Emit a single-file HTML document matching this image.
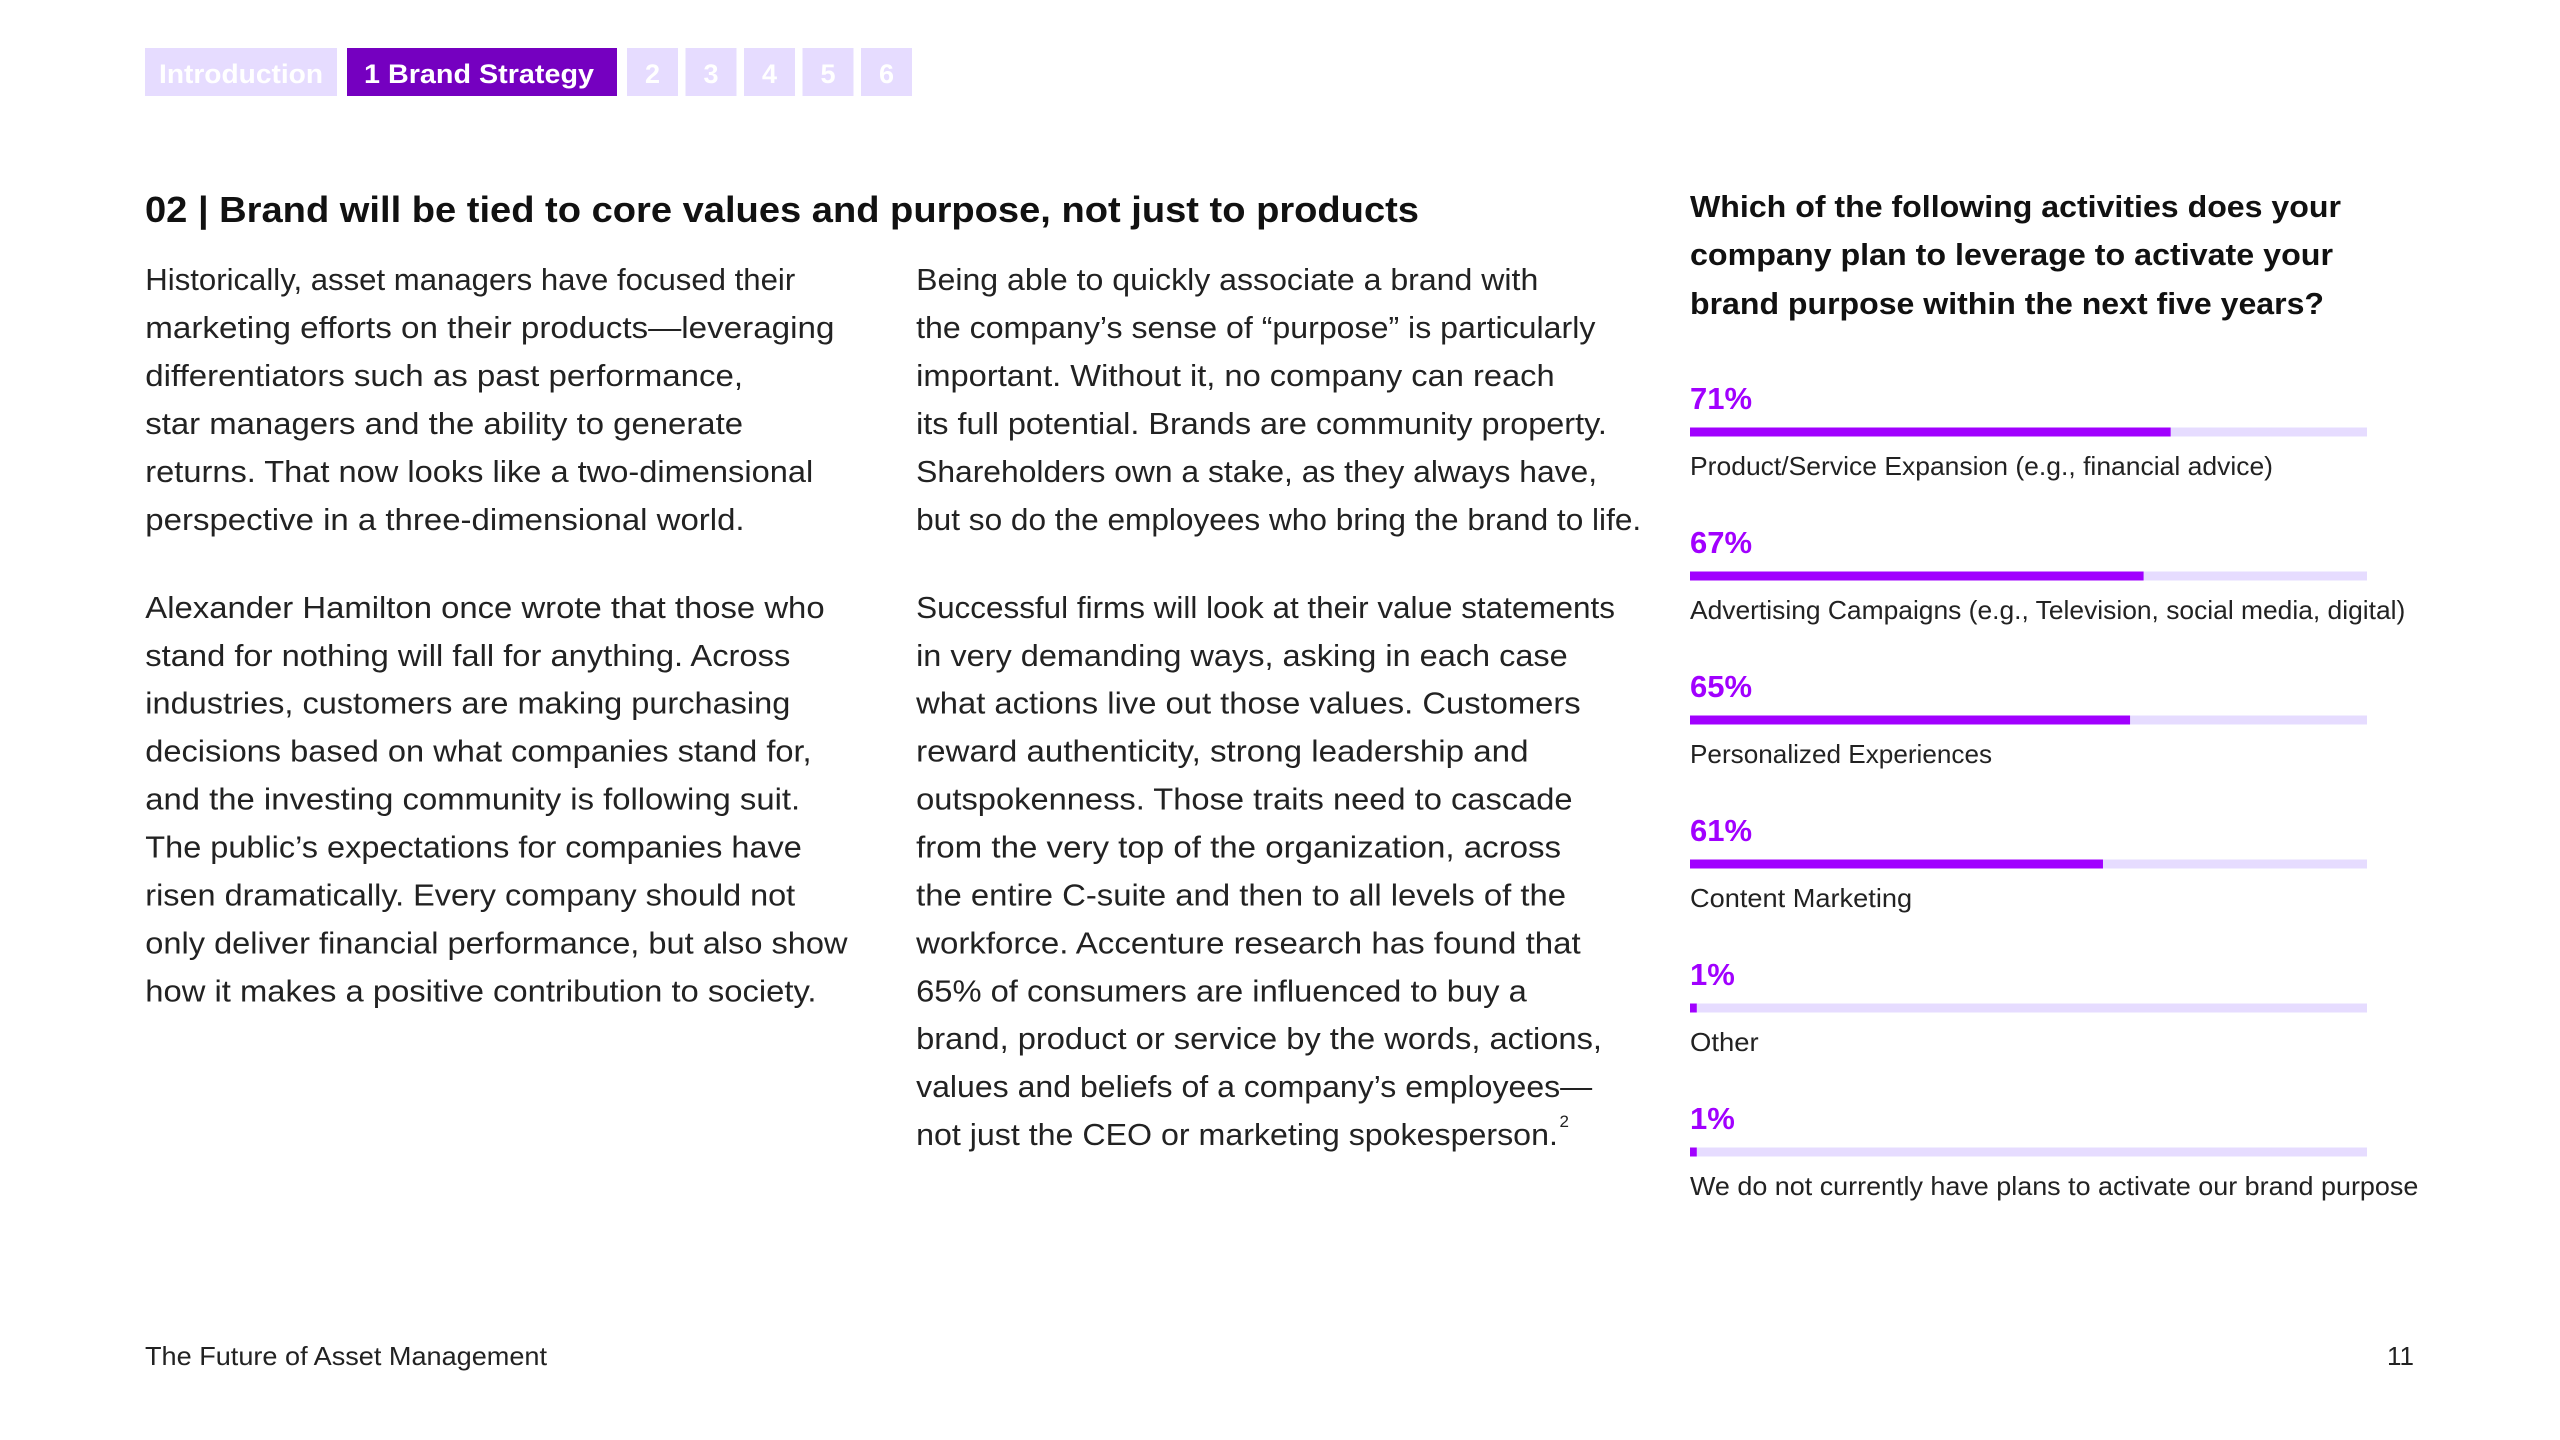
<!DOCTYPE html>
<html><head><meta charset="utf-8">
<style>
html,body{margin:0;padding:0;background:#fff;}
svg{display:block;}
text{font-family:"Liberation Sans",sans-serif;}
</style></head>
<body>
<svg id="page" width="2560" height="1440" viewBox="0 0 2560 1440" xmlns="http://www.w3.org/2000/svg">
  <g>
    <rect x="145" y="48" width="192" height="48" fill="#e6dcff"/>
    <text x="159" y="83" font-size="27" font-weight="bold" fill="#fff" textLength="164" lengthAdjust="spacingAndGlyphs">Introduction</text>
    <rect x="347" y="48" width="270" height="48" fill="#7500c0"/>
    <text x="364" y="83" font-size="27" font-weight="bold" fill="#fff" textLength="230" lengthAdjust="spacingAndGlyphs">1  Brand Strategy</text>
    <g id="navnums"></g>
  </g>
  <text x="145" y="222" font-size="36" font-weight="bold" fill="#111" textLength="1274" lengthAdjust="spacingAndGlyphs">02 | Brand will be tied to core values and purpose, not just to products</text>
  <g id="body"></g>
  <g>
    <text x="1690" y="217" font-size="31" font-weight="bold" fill="#111" textLength="651" lengthAdjust="spacingAndGlyphs">Which of the following activities does your</text>
    <text x="1690" y="265" font-size="31" font-weight="bold" fill="#111" textLength="643" lengthAdjust="spacingAndGlyphs">company plan to leverage to activate your</text>
    <text x="1690" y="314" font-size="31" font-weight="bold" fill="#111" textLength="634" lengthAdjust="spacingAndGlyphs">brand purpose within the next five years?</text>
  </g>
  <g id="chart"></g>
  <text x="145" y="1365" font-size="26" fill="#222" textLength="402" lengthAdjust="spacingAndGlyphs">The Future of Asset Management</text>
  <text x="2414" y="1365" font-size="26" fill="#222" text-anchor="end">11</text>
</svg>
<script>
const categories = ["Product/Service Expansion (e.g., financial advice)","Advertising Campaigns (e.g., Television, social media, digital)","Personalized Experiences","Content Marketing","Other","We do not currently have plans to activate our brand purpose"];
const values = [71,67,65,61,1,1];
const valueLabels = ["71%","67%","65%","61%","1%","1%"];

const NS="http://www.w3.org/2000/svg";
const S=1.633;
function mk(tag,attrs,parent){const e=document.createElementNS(NS,tag);for(const k in attrs)e.setAttribute(k,attrs[k]);parent.appendChild(e);return e;}

const nav=document.getElementById('navnums');
["2","3","4","5","6"].forEach((n,i)=>{
  const r=mk('rect',{x:627+i*58.5,y:48,width:51,height:48,fill:'#e6dcff'},nav);
  
  
  const t=mk('text',{x:652.5+i*58.5,y:83,'font-size':27,'font-weight':'bold',fill:'#fff','text-anchor':'middle'},nav);
  
  
  t.textContent=n;
});

const col1=[
["Historically, asset managers have focused their",487],
["marketing efforts on their products—leveraging",511],
["differentiators such as past performance,",455],
["star managers and the ability to generate",455],
["returns. That now looks like a two-dimensional",498],
["perspective in a three-dimensional world.",456],
null,
["Alexander Hamilton once wrote that those who",505],
["stand for nothing will fall for anything. Across",484],
["industries, customers are making purchasing",484],
["decisions based on what companies stand for,",497],
["and the investing community is following suit.",490],
["The public’s expectations for companies have",491],
["risen dramatically. Every company should not",487],
["only deliver financial performance, but also show",519],
["how it makes a positive contribution to society.",500]];
const col2=[
["Being able to quickly associate a brand with",942],
["the company’s sense of “purpose” is particularly",977],
["important. Without it, no company can reach",952],
["its full potential. Brands are community property.",984],
["Shareholders own a stake, as they always have,",978],
["but so do the employees who bring the brand to life.",1005],
null,
["Successful firms will look at their value statements",989],
["in very demanding ways, asking in each case",960],
["what actions live out those values. Customers",968],
["reward authenticity, strong leadership and",936],
["outspokenness. Those traits need to cascade",963],
["from the very top of the organization, across",956],
["the entire C-suite and then to all levels of the",959],
["workforce. Accenture research has found that",968],
["65% of consumers are influenced to buy a",935],
["brand, product or service by the words, actions,",981],
["values and beliefs of a company’s employees—",975],
["not just the CEO or marketing spokesperson.",954]];
const body=document.getElementById('body');
function drawCol(lines,sx,name){
  let y=171;
  lines.forEach((l,i)=>{
    if(l===null){y+=24.5;return;}
    const t=mk('text',{x:(sx*S).toFixed(1),y:(y*S+11).toFixed(1),'font-size':31,fill:'#222',textLength:((l[1]-sx)*S).toFixed(1),lengthAdjust:'spacingAndGlyphs'},body);
    
    
    t.textContent=l[0];
    y+=29.35;
  });
  return y;
}
drawCol(col1,89,'left-column');
drawCol(col2,561,'middle-column');
const sup=mk('text',{x:(955*S).toFixed(1),y:(690*S).toFixed(1),'font-size':17,fill:'#222'},body);


sup.textContent='2';

const chart=document.getElementById('chart');
const x0=1690, trackW=677, barH=9;
function xScale(v){return v/100*trackW;}
function rowY(i){return 432+i*144;}
const labelEnds=[1392,1473,1220,1171,1077,1481];
categories.forEach((c,i)=>{
  const cy=rowY(i);
  const vl=mk('text',{x:x0,y:cy-23,'font-size':31,'font-weight':'bold',fill:'#a100ff'},chart);
  
  
  vl.textContent=valueLabels[i];
  const tr=mk('rect',{x:x0,y:cy-barH/2,width:trackW,height:barH,fill:'#e6dcff'},chart);
  
  
  const b=mk('rect',{x:x0,y:cy-barH/2,width:Math.max(xScale(values[i]),6),height:barH,fill:'#a100ff'},chart);
  
  
  const cl=mk('text',{x:x0,y:cy+43,'font-size':26,fill:'#222',textLength:((labelEnds[i]-1035)*S).toFixed(1),lengthAdjust:'spacingAndGlyphs'},chart);
  
  
  cl.textContent=c;
});
</script>
</body></html>
